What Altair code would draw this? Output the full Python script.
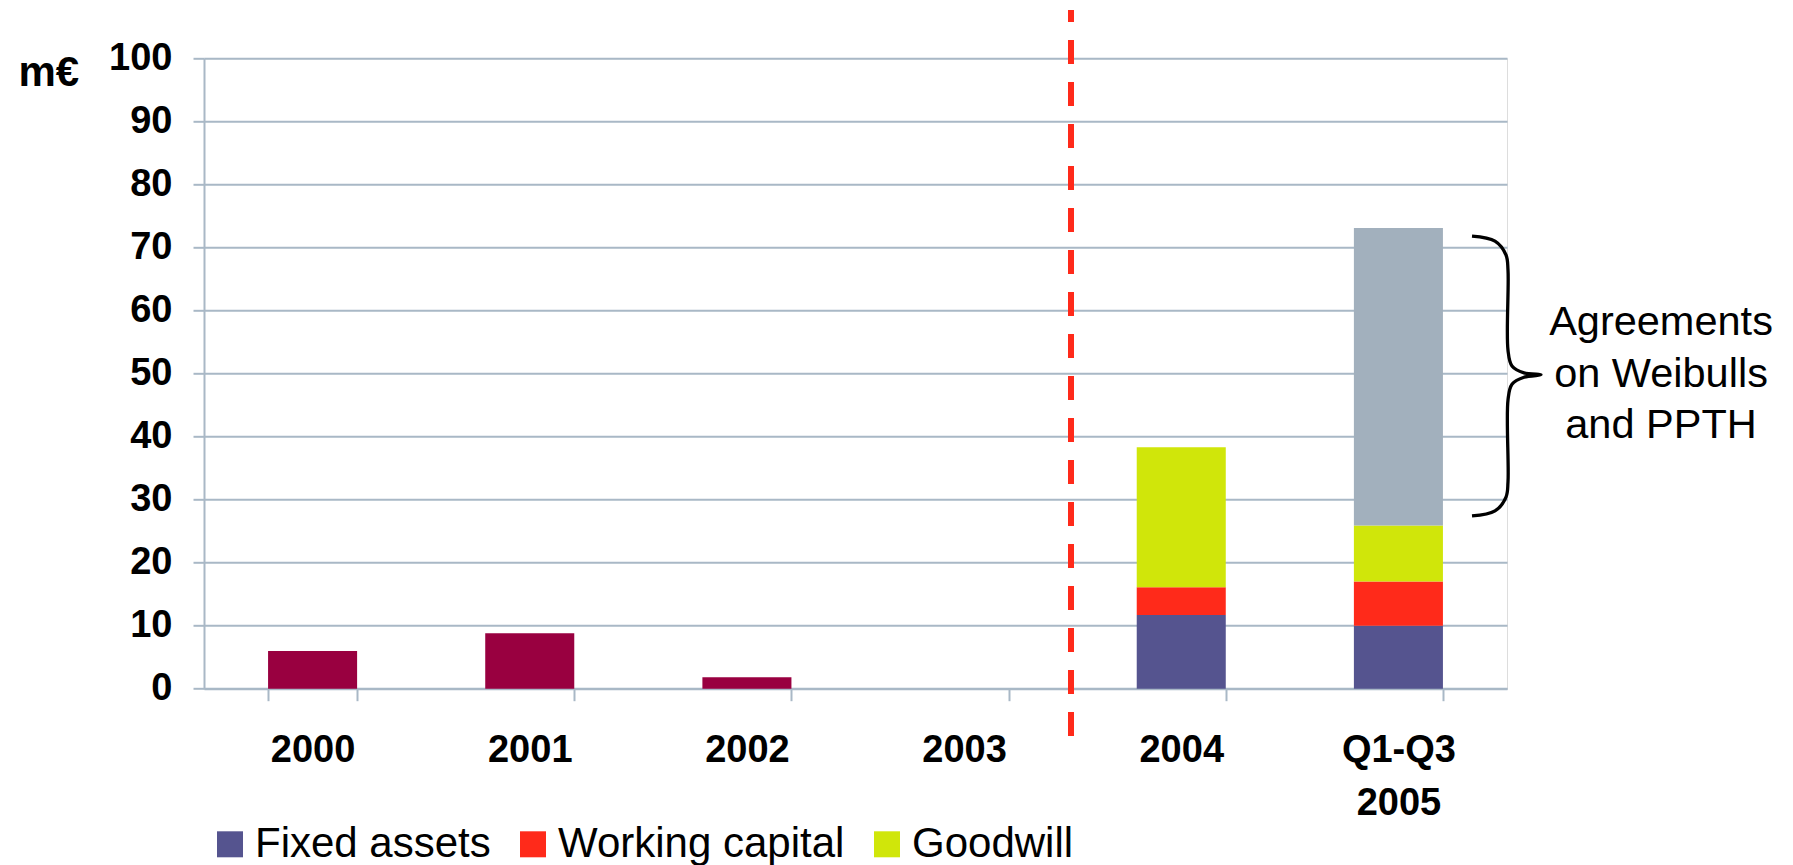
import altair as alt
import pandas as pd

categories = ["2000", "2001", "2002", "2003", "2004", "Q1-Q3 2005"]
investments = [6.0, 8.8, 1.8, 0.0, 0.0, 0.0]
fixed_assets = [0.0, 0.0, 0.0, 0.0, 11.7, 10.0]
working_capital = [0.0, 0.0, 0.0, 0.0, 4.4, 7.0]
goodwill = [0.0, 0.0, 0.0, 0.0, 22.2, 8.9]
agreements = [0.0, 0.0, 0.0, 0.0, 0.0, 47.2]

series_names = ["Fixed assets", "Working capital", "Goodwill", "Agreements", "Investments"]
series_colors = ["#55548F", "#FF2A1A", "#D0E60A", "#A2B0BD", "#990040"]
series_values = [fixed_assets, working_capital, goodwill, agreements, investments]
legend_names = ["Fixed assets", "Working capital", "Goodwill"]

y_ticks = [0, 10, 20, 30, 40, 50, 60, 70, 80, 90, 100]
note_lines = ["Agreements", "on Weibulls", "and PPTH"]

# brace outline (x in pixels across the plot, y in m€)
brace_x = [1268, 1291, 1302, 1304, 1304, 1308, 1320, 1337, 1320, 1308, 1304, 1304, 1302, 1291, 1268]
brace_y = [71.8, 71.0, 68.8, 66.4, 53.7, 51.2, 50.1, 49.8, 49.4, 48.3, 45.8, 32.8, 30.4, 28.2, 27.4]

rows = []
for i, (name, vals) in enumerate(zip(series_names, series_values)):
    for c, v in zip(categories, vals):
        rows.append({"cat": c, "series": name, "value": v, "ord": i})
df = pd.DataFrame(rows)
brace_df = pd.DataFrame({"bx": brace_x, "by": brace_y, "o": list(range(len(brace_x)))})

W = 1303
H = 630.4
FONT = "Liberation Sans"
GRID = "#A9B8C6"

bars = alt.Chart(df).mark_bar().encode(
    x=alt.X("cat:N", sort=categories,
            scale=alt.Scale(paddingInner=0.59, paddingOuter=0.295),
            axis=alt.Axis(title=None, labelAngle=0, tickBand="extent", tickSize=12,
                          tickColor=GRID, tickWidth=2, domainColor=GRID, domainWidth=2,
                          labelFont=FONT, labelFontSize=38, labelFontWeight="bold",
                          labelColor="black", labelPadding=31, labelLineHeight=53,
                          labelExpr="datum.value == 'Q1-Q3 2005' ? ['Q1-Q3', '2005'] : datum.value",
                          grid=False)),
    y=alt.Y("value:Q", stack="zero",
            scale=alt.Scale(domain=[0, 100], nice=False),
            axis=alt.Axis(values=y_ticks, title="m€", titleAngle=0, titleX=-186, titleY=26.7,
                          titleAlign="left", titleBaseline="alphabetic", titleFont=FONT,
                          titleFontSize=42, titleFontWeight="bold", titleColor="black",
                          labelFont=FONT, labelFontSize=38, labelFontWeight="bold",
                          labelColor="black", labelPadding=21, tickSize=11, tickColor=GRID,
                          tickWidth=2, domainColor=GRID, domainWidth=2, gridColor=GRID,
                          gridWidth=2, gridOpacity=1)),
    color=alt.Color("series:N",
                    scale=alt.Scale(domain=series_names, range=series_colors),
                    legend=alt.Legend(values=legend_names, title=None, orient="none",
                                      direction="horizontal", legendX=5, legendY=765,
                                      symbolType="square", symbolSize=676,
                                      symbolStrokeWidth=0, symbolOpacity=1,
                                      labelFont=FONT, labelFontSize=42, labelColor="black",
                                      labelOffset=4, columnPadding=21, labelLimit=600)),
    order=alt.Order("ord:Q"),
)

divider = alt.Chart(df).mark_rule(color="#FF2A1A", strokeWidth=6,
                                  strokeDash=[24, 18], strokeDashOffset=12).encode(
    x=alt.value(867), y=alt.value(-48.3), y2=alt.value(677.7)
)

brace = alt.Chart(brace_df).mark_line(color="black", strokeWidth=3.3,
                                      interpolate="catmull-rom").encode(
    x=alt.X("bx:Q", scale=alt.Scale(domain=[0, W], nice=False, zero=False), axis=None),
    y=alt.Y("by:Q"),
    order="o:Q",
)

note = alt.Chart(pd.DataFrame({"t": [note_lines]})).mark_text(
    font=FONT, fontSize=41.5, lineHeight=51.5, align="center", baseline="alphabetic",
    color="black"
).encode(x=alt.value(1457), y=alt.value(276.7), text="t")

chart = alt.layer(bars, divider, brace, note).resolve_scale(x="independent").properties(
    width=W, height=H,
    autosize=alt.AutoSizeParams(type="none"),
    padding={"left": 204, "top": 58.3, "right": 286, "bottom": 176.3},
).configure_view(stroke=None).configure(background="white")

chart.save("out.html", embed_options={"renderer": "svg", "actions": False})
